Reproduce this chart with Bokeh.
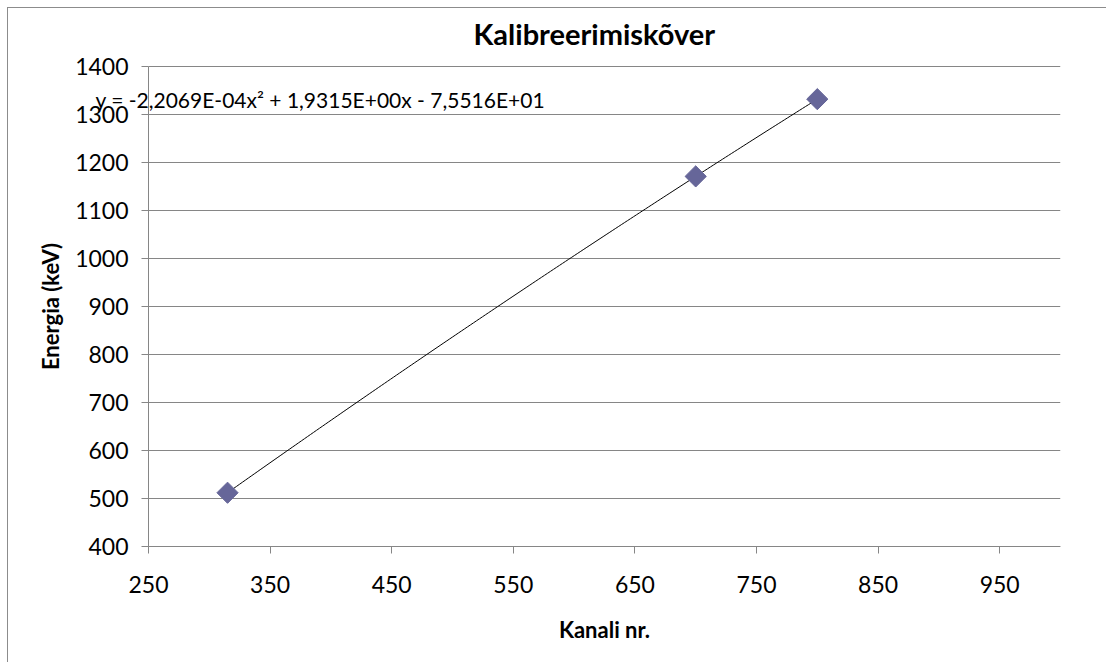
import numpy as np
from bokeh.plotting import figure
from bokeh.models import Label, FixedTicker, ColumnDataSource
from bokeh.embed import file_html
from bokeh.resources import INLINE

# Data
channels = [315, 700, 800]
energies = [512, 1171, 1332]
x_ticks = [250, 350, 450, 550, 650, 750, 850, 950]
y_ticks = [400, 500, 600, 700, 800, 900, 1000, 1100, 1200, 1300, 1400]
title_text = "Kalibreerimiskõver"
x_label = "Kanali nr."
y_label = "Energia (keV)"
eq_text = "y = -2,2069E-04x² + 1,9315E+00x - 7,5516E+01"

X_MIN, X_MAX = 250, 1000
Y_MIN, Y_MAX = 400, 1400

FONT = "Lato"
GRID = "#868686"

# layout (page pixels): plot area 148..1060 x 66..546; frame extended so that
# the axis texts and the equation (which sticks out to the left) are not clipped
ox, oy = 8, 8
W, H = 1099, 655
fl, fr, ft, fb = 15, 1060, 50, 650
sx = (X_MAX - X_MIN) / (fr - 148)
sy = (Y_MAX - Y_MIN) / (546 - 66)
x_start = X_MIN - (148 - fl) * sx
y_start = Y_MIN - (fb - 546) * sy
y_end = Y_MAX + (66 - ft) * sy

p = figure(width=W, height=H, x_range=(x_start, X_MAX), y_range=(y_start, y_end),
           output_backend="svg", toolbar_location=None,
           min_border_left=fl - ox, min_border_right=ox + W - fr, min_border_top=ft - oy,
           min_border_bottom=oy + H - fb)
p.styles = {"border-left": "1px solid #8c8c8c", "border-top": "1px solid #8c8c8c",
            "margin-left": "7px", "margin-top": "7px"}

p.title.text = title_text
p.title.text_font = FONT
p.title.text_font_size = "29px"
p.title.text_font_style = "bold"
p.title.align = "left"
p.title.offset = 473 - fl
p.title.standoff = 0
p.title.text_color = "black"

p.outline_line_color = None
p.background_fill_color = "white"
p.border_fill_color = "white"

p.xgrid.grid_line_color = None
p.ygrid.grid_line_color = GRID
p.ygrid.grid_line_width = 1
p.ygrid.ticker = FixedTicker(ticks=y_ticks)
p.ygrid.bounds = (Y_MIN, Y_MAX)
p.ygrid.cross_bounds = (X_MIN, X_MAX)

for ax in (p.xaxis[0], p.yaxis[0]):
    ax.axis_line_color = GRID
    ax.major_tick_line_color = GRID
    ax.major_tick_out = 7
    ax.major_tick_in = 0
    ax.minor_tick_line_color = None
    ax.major_label_text_font = FONT
    ax.major_label_text_font_size = "23px"
    ax.major_label_text_color = "black"
    ax.axis_label_text_font = FONT
    ax.axis_label_text_font_size = "22px"
    ax.axis_label_text_font_style = "bold"
    ax.axis_label_text_color = "black"

p.xaxis.ticker = FixedTicker(ticks=x_ticks)
p.yaxis.ticker = FixedTicker(ticks=y_ticks)
p.xaxis.bounds = (X_MIN, X_MAX)
p.yaxis.bounds = (Y_MIN, Y_MAX)
p.xaxis.fixed_location = Y_MIN
p.yaxis.fixed_location = X_MIN
p.xaxis.axis_label = x_label
p.yaxis.axis_label = y_label
p.xaxis.major_label_standoff = 22
p.yaxis.major_label_standoff = 13
p.xaxis.axis_label_standoff = 20
p.yaxis.axis_label_standoff = 8

# trendline: quadratic fit through the data
coef = np.polyfit(channels, energies, 2)
xs = np.linspace(min(channels), max(channels), 200)
ys = np.polyval(coef, xs)
p.line(xs, ys, line_color="black", line_width=1)

src = ColumnDataSource(dict(x=channels, y=energies))
p.scatter("x", "y", source=src, marker="square", size=15, angle=np.pi / 4,
          fill_color="#666699", line_color="#666699")

p.add_layout(Label(x=X_MIN - 53 * sx, y=Y_MIN + (546 - 99) * sy, text=eq_text,
                   text_font=FONT, text_font_size="21px", text_baseline="middle",
                   text_align="left", text_color="black"))

open("out.html", "w").write(file_html(p, INLINE))
